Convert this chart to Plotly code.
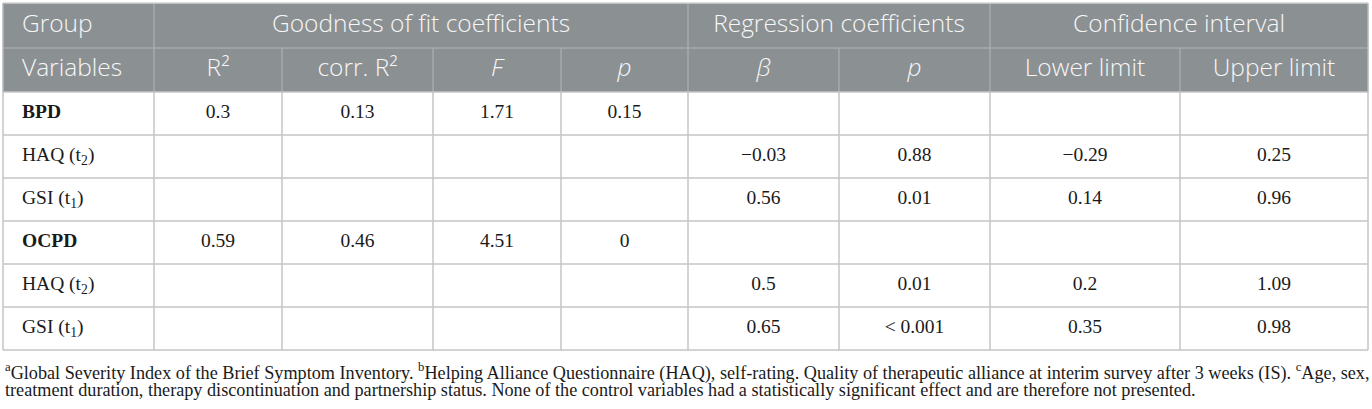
import plotly.graph_objects as go

# group header row
group_labels = ["Group", "Goodness of fit coefficients", "Regression coefficients", "Confidence interval"]
group_span = [1, 4, 2, 2]  # number of columns under each group label

# column header row
col_labels = ["Variables", "R²", "corr. R²", "<i>F</i>", "<i>p</i>", "<i>β</i>", "<i>p</i>",
              "Lower limit", "Upper limit"]

variables = ["<b>BPD</b>", "HAQ (t<sub>2</sub>)", "GSI (t<sub>1</sub>)",
             "<b>OCPD</b>", "HAQ (t<sub>2</sub>)", "GSI (t<sub>1</sub>)"]
r2 = ["0.3", "", "", "0.59", "", ""]
corr_r2 = ["0.13", "", "", "0.46", "", ""]
f_val = ["1.71", "", "", "4.51", "", ""]
p_fit = ["0.15", "", "", "0", "", ""]
beta = ["", "\u22120.03", "0.56", "", "0.5", "0.65"]
p_reg = ["", "0.88", "0.01", "", "0.01", "< 0.001"]
lower = ["", "\u22120.29", "0.14", "", "0.2", "0.35"]
upper = ["", "0.25", "0.96", "", "1.09", "0.98"]

footnote_lines = [
    "<sup>a</sup>Global Severity Index of the Brief Symptom Inventory. "
    "<sup>b</sup>Helping Alliance Questionnaire (HAQ), self-rating. Quality of therapeutic "
    "alliance at interim survey after 3 weeks (IS). <sup>c</sup>Age, sex,",
    "treatment duration, therapy discontinuation and partnership status. None of the "
    "control variables had a statistically significant effect and are therefore not presented.",
]

columns = [variables, r2, corr_r2, f_val, p_fit, beta, p_reg, lower, upper]

# layout in pixels
W, H = 1372, 409
col_w = [151, 128, 151, 128, 127, 151, 151, 190, 188]
left, top = 3, 3
head_h = [45, 44]
row_h = 43
pad = 19

HEAD_BG = "#8b9093"
HEAD_LINE = "#a6aaad"
GRID = "#c4c4c4"
HEAD_FONT = dict(family="Open Sans", size=24.5, color="#f7f7f7", weight=300)
BODY_FONT = dict(family="Liberation Serif", size=19.5, color="#1a1a1a")

edges = [left]
for w in col_w:
    edges.append(edges[-1] + w)
right = edges[-1]
y_h1 = top + head_h[0]
y_h2 = y_h1 + head_h[1]
n_rows = len(variables)
row_edges = [y_h2 + i * row_h for i in range(n_rows + 1)]
bottom = row_edges[-1]

shapes = []
# header background
shapes.append(dict(type="rect", x0=left, x1=right, y0=top, y1=y_h2,
                   fillcolor=HEAD_BG, line_width=0, layer="below"))
# header lines
shapes.append(dict(type="line", x0=left, x1=right, y0=y_h1, y1=y_h1,
                   line=dict(color=HEAD_LINE, width=1.5)))
k = 0
for span in group_span[:-1]:
    k += span
    shapes.append(dict(type="line", x0=edges[k], x1=edges[k], y0=top, y1=y_h1,
                       line=dict(color=HEAD_LINE, width=1.5)))
for e in edges[1:-1]:
    shapes.append(dict(type="line", x0=e, x1=e, y0=y_h1, y1=y_h2,
                       line=dict(color=HEAD_LINE, width=1.5)))
# body grid
for ry in row_edges:
    shapes.append(dict(type="line", x0=left, x1=right, y0=ry, y1=ry,
                       line=dict(color=GRID, width=1.5)))
for e in edges:
    shapes.append(dict(type="line", x0=e, x1=e, y0=y_h2, y1=bottom,
                       line=dict(color=GRID, width=1.5)))
# outer top / sides of header
shapes.append(dict(type="line", x0=left, x1=right, y0=top, y1=top,
                   line=dict(color="#d0d2d3", width=1.5)))
for e in (left, right):
    shapes.append(dict(type="line", x0=e, x1=e, y0=top, y1=y_h2,
                       line=dict(color="#b5b8ba", width=1.5)))

fig = go.Figure()

# group header text
gx = []
k = 0
for span in group_span:
    if k == 0:
        gx.append(edges[0] + pad)
    else:
        gx.append((edges[k] + edges[k + span]) / 2)
    k += span
fig.add_trace(go.Scatter(x=gx[:1], y=[(top + y_h1) / 2], text=group_labels[:1], mode="text",
                         textposition="middle right", textfont=HEAD_FONT, hoverinfo="skip"))
fig.add_trace(go.Scatter(x=gx[1:], y=[(top + y_h1) / 2] * 3, text=group_labels[1:], mode="text",
                         textposition="middle center", textfont=HEAD_FONT, hoverinfo="skip"))

# column header text
cx = [(edges[i] + edges[i + 1]) / 2 for i in range(len(col_w))]
fig.add_trace(go.Scatter(x=[edges[0] + pad], y=[(y_h1 + y_h2) / 2], text=col_labels[:1], mode="text",
                         textposition="middle right", textfont=HEAD_FONT, hoverinfo="skip"))
fig.add_trace(go.Scatter(x=cx[1:], y=[(y_h1 + y_h2) / 2] * 8, text=col_labels[1:], mode="text",
                         textposition="middle center", textfont=HEAD_FONT, hoverinfo="skip"))

# body text
row_c = [(row_edges[i] + row_edges[i + 1]) / 2 for i in range(n_rows)]
for i, col in enumerate(columns):
    if i == 0:
        xs, pos = [edges[0] + pad] * n_rows, "middle right"
    else:
        xs, pos = [cx[i]] * n_rows, "middle center"
    fig.add_trace(go.Scatter(x=xs, y=row_c, text=col, mode="text", textposition=pos,
                             textfont=BODY_FONT, hoverinfo="skip"))

for j, line in enumerate(footnote_lines):
    fig.add_annotation(text=line, x=left, y=372 + 18 * j, xref="x", yref="y",
                       xanchor="left", yanchor="middle", align="left", showarrow=False,
                       font=dict(family="Liberation Serif", size=18.2, color="#1a1a1a"))

fig.update_layout(
    width=W, height=H,
    margin=dict(l=0, r=0, t=0, b=0),
    paper_bgcolor="white", plot_bgcolor="white",
    showlegend=False,
    shapes=shapes,
    xaxis=dict(range=[0, W], visible=False, fixedrange=True),
    yaxis=dict(range=[H, 0], visible=False, fixedrange=True),
)

# drop the default 8px page margin so the figure sits at the window corner
fig.write_html("out.html", config={"displayModeBar": False},
               post_script="document.body.style.margin='0';")
